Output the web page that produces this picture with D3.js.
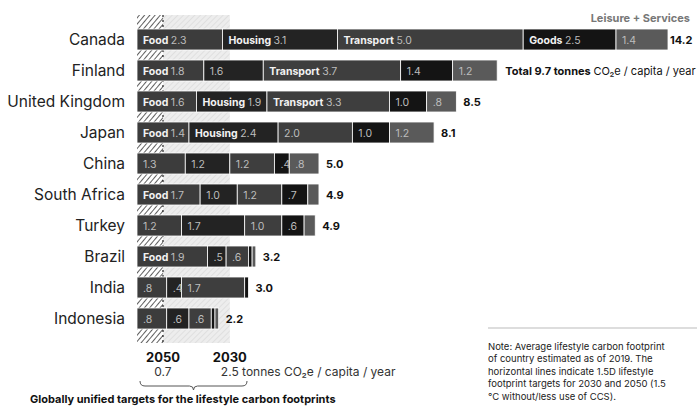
<!DOCTYPE html>
<html>
<head>
<meta charset="utf-8">
<script src="https://cdn.jsdelivr.net/npm/d3@7"></script>
<style>
  body { margin: 0; background: #fff; }
  svg { font-family: Inter, "Noto Sans", sans-serif; }
</style>
</head>
<body>
<div id="chart"></div>
<script>
// lifestyle carbon footprint per country, tonnes CO2e / capita / year
var countries = ["Canada", "Finland", "United Kingdom", "Japan", "China", "South Africa", "Turkey", "Brazil", "India", "Indonesia"];
var food      = [2.3, 1.8, 1.6, 1.4, 1.3, 1.7, 1.2, 1.9, 0.8, 0.8];
var housing   = [3.1, 1.6, 1.9, 2.4, 1.2, 1.0, 1.7, 0.5, 0.4, 0.6];
var transport = [5.0, 3.7, 3.3, 2.0, 1.2, 1.2, 1.0, 0.6, 1.7, 0.6];
var goods     = [2.5, 1.4, 1.0, 1.0, 0.4, 0.7, 0.6, 0.1, 0.1, 0.1];
var leisure   = [1.4, 1.2, 0.8, 1.2, 0.8, 0.3, 0.3, 0.1, 0.0, 0.1];
var totals    = [14.2, 9.7, 8.5, 8.1, 5.0, 4.9, 4.9, 3.2, 3.0, 2.2];

var categories = ["Food", "Housing", "Transport", "Goods", "Leisure + Services"];
// which segments show their category name in the bar
var named = [
  ["Food", "Housing", "Transport", "Goods"],
  ["Food", "Transport"],
  ["Food", "Housing", "Transport"],
  ["Food", "Housing"],
  [],
  ["Food"],
  [],
  ["Food"],
  [],
  []
];

var targets = [{ year: "2050", value: 0.7 }, { year: "2030", value: 2.5 }];

var noteLines = [
  "Note: Average lifestyle carbon footprint",
  "of country estimated as of 2019. The",
  "horizontal lines indicate 1.5D lifestyle",
  "footprint targets for 2030 and 2050 (1.5",
  "°C without/less use of CCS)."
];

var W = 699, H = 406;

var x = d3.scaleLinear().domain([0, 14.3]).range([137, 668]);
var y = d3.scaleBand().domain(countries).range([29, 329]).paddingInner(10 / 31).paddingOuter(0);
var color = d3.scaleOrdinal()
  .domain(categories)
  .range(["#3c3c3c", "#232323", "#3e3e3e", "#141414", "#5a5a5a"]);

var svg = d3.select("#chart").append("svg")
  .attr("width", W)
  .attr("height", H);

// hatch patterns for the target zones
var defs = svg.append("defs");
var pLight = defs.append("pattern")
  .attr("id", "hatchLight")
  .attr("patternUnits", "userSpaceOnUse")
  .attr("width", 4).attr("height", 4)
  .attr("patternTransform", "rotate(45)");
pLight.append("rect").attr("width", 4).attr("height", 4).attr("fill", "#ededed");
pLight.append("line").attr("x1", 0).attr("y1", 0).attr("x2", 0).attr("y2", 4)
  .attr("stroke", "#d9d9d9").attr("stroke-width", 1.4);

var pDark = defs.append("pattern")
  .attr("id", "hatchDark")
  .attr("patternUnits", "userSpaceOnUse")
  .attr("width", 4).attr("height", 4)
  .attr("patternTransform", "rotate(40)");
pDark.append("rect").attr("width", 4).attr("height", 4).attr("fill", "#fff");
pDark.append("line").attr("x1", 0).attr("y1", 0).attr("x2", 0).attr("y2", 4)
  .attr("stroke", "#2a2a2a").attr("stroke-width", 1.5);

var zoneTop = y(countries[0]) - 14,
    zoneBottom = y(countries[countries.length - 1]) + y.bandwidth() + 14;

svg.append("rect")
  .attr("x", x(targets[0].value)).attr("y", zoneTop)
  .attr("width", x(targets[1].value) - x(targets[0].value)).attr("height", zoneBottom - zoneTop)
  .attr("fill", "url(#hatchLight)");
svg.append("rect")
  .attr("x", x(0)).attr("y", zoneTop)
  .attr("width", x(targets[0].value) - x(0)).attr("height", zoneBottom - zoneTop)
  .attr("fill", "url(#hatchDark)");
svg.append("line")
  .attr("x1", x(targets[0].value)).attr("x2", x(targets[0].value))
  .attr("y1", zoneTop).attr("y2", zoneBottom)
  .attr("stroke", "#222").attr("stroke-width", 1.2)
  .attr("stroke-dasharray", "2,3");

// stacked segments
var rows = countries.map(function (c, i) {
  var vals = [food[i], housing[i], transport[i], goods[i], leisure[i]];
  var x0 = 0;
  return {
    country: c, total: totals[i], names: named[i],
    segs: vals.map(function (v, j) {
      var s = { cat: categories[j], v: v, x0: x0, x1: x0 + v };
      x0 += v;
      return s;
    })
  };
});

function fmt(v) {
  return v < 1 ? "." + Math.round(v * 10) : v.toFixed(1);
}

var row = svg.selectAll("g.row").data(rows).join("g")
  .attr("class", "row")
  .attr("transform", function (d) { return "translate(0," + y(d.country) + ")"; });

row.selectAll("rect").data(function (d) { return d.segs.filter(function (s) { return s.v > 0; }); }).join("rect")
  .attr("x", function (s) { return x(s.x0); })
  .attr("width", function (s) { return x(s.x1) - x(s.x0); })
  .attr("height", y.bandwidth())
  .attr("fill", function (s) { return color(s.cat); })
  .attr("stroke", "#fff").attr("stroke-width", 0.8);

row.each(function (d) {
  var g = d3.select(this);
  d.segs.forEach(function (s) {
    if (s.v < 0.4) return;
    var t = g.append("text")
      .attr("x", x(s.x0) + 6)
      .attr("y", y.bandwidth() / 2 + 4)
      .attr("font-size", 10.5);
    if (d.names.indexOf(s.cat) >= 0) {
      t.append("tspan").attr("fill", "#f2f2f2").attr("font-weight", 700).text(s.cat + " ");
    }
    t.append("tspan").attr("fill", "#bdbdbd").text(fmt(s.v));
  });

  // country names
  g.append("text")
    .attr("x", 125).attr("y", y.bandwidth() / 2 + 5.5)
    .attr("text-anchor", "end")
    .attr("font-size", 15.5).attr("fill", "#222")
    .text(d.country);

  // totals
  var tt = g.append("text")
    .attr("x", Math.min(x(d.segs[4].x1) + 7, 670)).attr("y", y.bandwidth() / 2 + 4)
    .attr("font-size", 11).attr("fill", "#111");
  if (d.country === "Finland") {
    tt.attr("x", x(d.segs[4].x1) + 8);
    tt.append("tspan").attr("font-weight", 700).text("Total " + d.total.toFixed(1) + " tonnes ");
    tt.append("tspan").text("CO₂e / capita / year");
  } else {
    tt.attr("font-weight", 700).text(d.total.toFixed(1));
  }
});

svg.append("text")
  .attr("x", 690).attr("y", 22)
  .attr("text-anchor", "end")
  .attr("font-size", 11).attr("font-weight", 700).attr("fill", "#777")
  .text(categories[4]);

// target labels below
svg.selectAll("text.year").data(targets).join("text")
  .attr("class", "year")
  .attr("x", function (d) { return x(d.value); })
  .attr("y", 362)
  .attr("text-anchor", "middle")
  .attr("font-size", 13).attr("font-weight", 700).attr("fill", "#111")
  .text(function (d) { return d.year; });

svg.append("text")
  .attr("x", x(targets[0].value)).attr("y", 376)
  .attr("text-anchor", "middle")
  .attr("font-size", 12).attr("fill", "#333")
  .text(targets[0].value.toFixed(1));
svg.append("text")
  .attr("x", x(targets[1].value) - 9).attr("y", 376)
  .attr("font-size", 12).attr("fill", "#333")
  .text(targets[1].value.toFixed(1) + " tonnes CO₂e / capita / year");

// brace
var bx0 = 140, bx1 = 247, bm = (bx0 + bx1) / 2, by = 381;
svg.append("path")
  .attr("d", "M" + bx0 + "," + by + " q0,5 5,5 L" + (bm - 4) + "," + (by + 5) +
    " q4,0 4,4 q0,-4 4,-4 L" + (bx1 - 5) + "," + (by + 5) + " q5,0 5,-5")
  .attr("fill", "none").attr("stroke", "#555").attr("stroke-width", 1);

svg.append("text")
  .attr("x", 30).attr("y", 403)
  .attr("font-size", 11).attr("font-weight", 700).attr("fill", "#111")
  .text("Globally unified targets for the lifestyle carbon footprints");

// note
svg.append("line")
  .attr("x1", 488).attr("x2", 697).attr("y1", 328).attr("y2", 328)
  .attr("stroke", "#bbb").attr("stroke-width", 1);
svg.selectAll("text.note").data(noteLines).join("text")
  .attr("class", "note")
  .attr("x", 488)
  .attr("y", function (d, i) { return 349.5 + i * 12.5; })
  .attr("font-size", 9.5).attr("fill", "#222")
  .text(function (d) { return d; });
</script>
</body>
</html>
